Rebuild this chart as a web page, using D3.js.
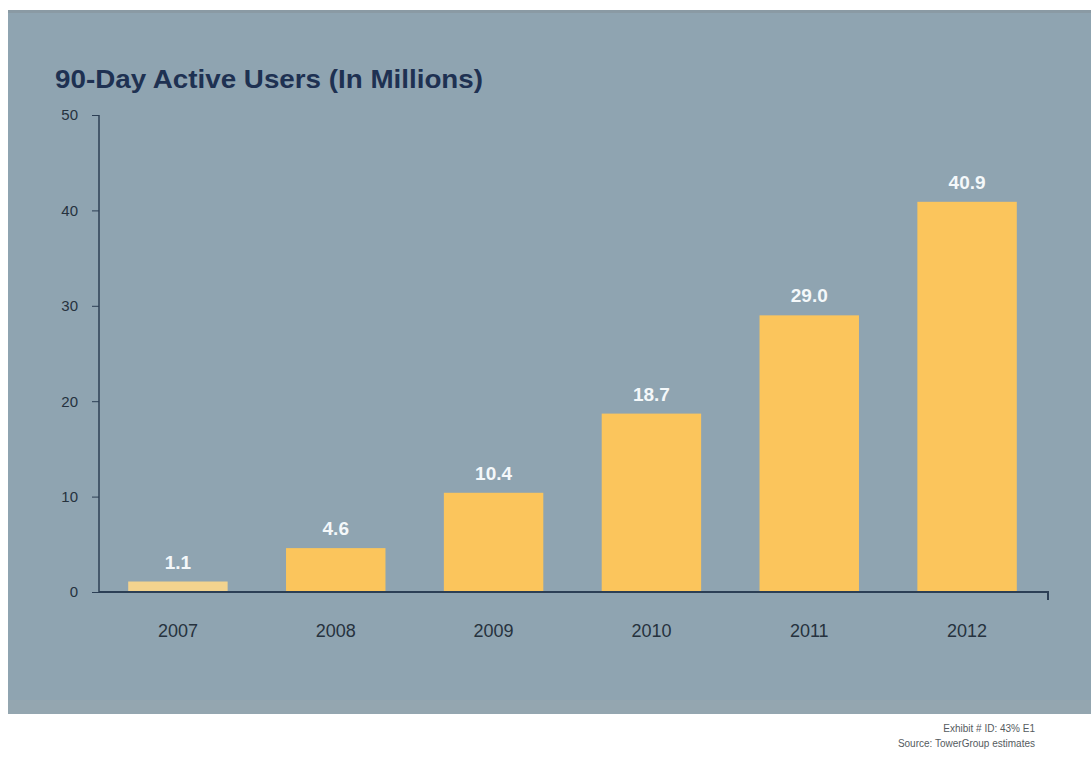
<!DOCTYPE html>
<html>
<head>
<meta charset="utf-8">
<script src="https://cdn.jsdelivr.net/npm/d3@7"></script>
<style>
  html, body { margin: 0; padding: 0; background: #ffffff; }
  svg { display: block; }
</style>
</head>
<body>
<svg id="chart" width="1091" height="760"></svg>
<script>
// Mobile banking: 90-day active users, in millions
const years = ["2007", "2008", "2009", "2010", "2011", "2012"];
const activeUsers = [1.1, 4.6, 10.4, 18.7, 29.0, 40.9];
const valueLabels = ["1.1", "4.6", "10.4", "18.7", "29.0", "40.9"];
const yTicks = [0, 10, 20, 30, 40, 50];
const chartTitle = "90-Day Active Users (In Millions)";
const footnotes = ["Exhibit # ID: 43% E1", "Source: TowerGroup estimates"];

const svg = d3.select("#chart");
const W = 1091;
const FONT = "Liberation Sans Narrow, Arial Narrow, Liberation Sans, sans-serif";

// panel background
svg.append("rect").attr("x", 8).attr("y", 10).attr("width", W - 8).attr("height", 704)
  .attr("fill", "#8fa4b1");
svg.append("rect").attr("x", 8).attr("y", 10).attr("width", W - 8).attr("height", 3)
  .attr("fill", "#8a9aa4");
svg.append("rect").attr("x", 8).attr("y", 700).attr("width", W - 8).attr("height", 14)
  .attr("fill", "#94a6b0");

const margin = { left: 99, right: 1046, top: 115, bottom: 592 };

const x = d3.scaleBand().domain(years).range([margin.left, margin.right]).paddingInner(0.37).paddingOuter(0.185);
const y = d3.scaleLinear().domain([0, 50]).range([margin.bottom, margin.top]);

// title
svg.append("text")
  .attr("x", 55).attr("y", 88)
  .attr("font-family", FONT)
  .attr("font-size", 26).attr("font-weight", "bold")
  .attr("fill", "#1e3152")
  .attr("textLength", 428).attr("lengthAdjust", "spacingAndGlyphs")
  .text(chartTitle);

// bars
svg.append("g").selectAll("rect").data(activeUsers).join("rect")
  .attr("x", (d, i) => x(years[i]))
  .attr("y", d => y(d))
  .attr("width", x.bandwidth())
  .attr("height", d => y(0) - y(d))
  .attr("fill", (d, i) => i === 0 ? "#f3d38e" : "#fbc55c");

// value labels
svg.append("g").selectAll("text").data(activeUsers).join("text")
  .attr("x", (d, i) => x(years[i]) + x.bandwidth() / 2)
  .attr("y", d => y(d) - 13)
  .attr("text-anchor", "middle")
  .attr("font-family", FONT)
  .attr("font-size", 19).attr("font-weight", "bold")
  .attr("fill", "#f4f8fa")
  .text((d, i) => valueLabels[i]);

// y axis
const yAxis = svg.append("g")
  .attr("transform", `translate(${margin.left},0)`)
  .call(d3.axisLeft(y).tickValues(yTicks).tickSize(7).tickPadding(14).tickFormat(d3.format("d")));
yAxis.select(".domain").attr("stroke", "#2c3f55").attr("stroke-width", 1.5).attr("d", `M0,${margin.top}V${margin.bottom}`);
yAxis.selectAll(".tick line").attr("stroke", "#2c3f55");
yAxis.selectAll(".tick text")
  .attr("font-family", FONT)
  .attr("font-size", 15).attr("fill", "#26323e");

// x axis
const xAxis = svg.append("g")
  .attr("transform", `translate(0,${margin.bottom})`)
  .call(d3.axisBottom(x).tickSize(0).tickPadding(32));
xAxis.select(".domain").attr("stroke", "#2c3f55").attr("stroke-width", 2)
  .attr("d", `M${margin.left},0H1048V8`);
xAxis.selectAll(".tick text")
  .attr("font-family", FONT)
  .attr("font-size", 18).attr("fill", "#26323e");

// footnotes
svg.append("g").selectAll("text").data(footnotes).join("text")
  .attr("x", 1035).attr("y", (d, i) => 732 + i * 15)
  .attr("text-anchor", "end")
  .attr("font-family", FONT)
  .attr("font-size", 10).attr("fill", "#555b60")
  .text(d => d);
</script>
</body>
</html>
